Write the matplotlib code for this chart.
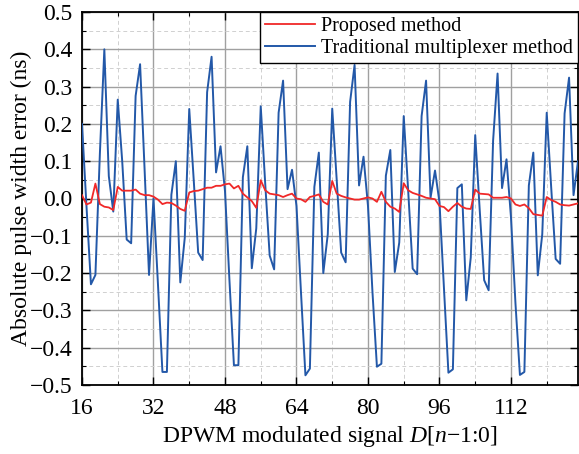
import matplotlib
matplotlib.use('Agg')
import matplotlib.pyplot as plt
from matplotlib.ticker import MultipleLocator, FuncFormatter
import numpy as np

plt.rcParams['font.family'] = 'Liberation Serif'
plt.rcParams['mathtext.fontset'] = 'custom'
plt.rcParams['mathtext.rm'] = 'Liberation Serif'
plt.rcParams['mathtext.it'] = 'Liberation Serif:italic'

# DPWM code D[n-1:0]
d_code = np.arange(16, 128)

# absolute pulse width error (ns), proposed method
err_proposed = [
    0.009, -0.016, -0.011, 0.040, -0.015, -0.022, -0.024, -0.031,
    0.031, 0.021, 0.021, 0.021, 0.024, 0.013, 0.009, 0.009,
    0.005, -0.003, -0.015, -0.011, -0.012, -0.019, -0.028, -0.033,
    0.016, 0.020, 0.021, 0.025, 0.029, 0.029, 0.034, 0.034,
    0.038, 0.040, 0.027, 0.034, 0.013, 0.003, -0.007, -0.025,
    0.049, 0.022, 0.013, 0.011, 0.009, 0.004, 0.009, 0.013,
    0.000, -0.002, -0.009, 0.004, 0.007, 0.011, -0.009, -0.016,
    0.047, 0.013, 0.007, 0.003, 0.000, -0.003, -0.003, 0.000,
    0.003, 0.000, -0.009, 0.018, -0.009, -0.022, -0.027, -0.036,
    0.041, 0.022, 0.015, 0.011, 0.007, 0.002, 0.000, -0.002,
    -0.020, -0.023, -0.034, -0.022, -0.012, -0.022, -0.027, -0.028,
    0.024, 0.013, 0.012, 0.011, 0.002, 0.002, 0.002, 0.004,
    0.000, -0.016, -0.020, -0.016, -0.026, -0.042, -0.044, -0.046,
    0.004, -0.004, -0.009, -0.016, -0.018, -0.019, -0.016, -0.013,
]

# absolute pulse width error (ns), traditional multiplexer method
err_traditional = [
    0.200, -0.020, -0.230, -0.205, 0.120, 0.400, 0.060, -0.035,
    0.265, 0.100, -0.110, -0.120, 0.275, 0.360, 0.080, -0.205,
    0.000, -0.230, -0.465, -0.465, 0.010, 0.100, -0.225, -0.105,
    0.240, 0.050, -0.145, -0.165, 0.285, 0.380, 0.070, 0.140,
    0.020, -0.220, -0.447, -0.447, 0.057, 0.140, -0.187, -0.080,
    0.247, 0.040, -0.153, -0.190, 0.230, 0.316, 0.025, 0.077,
    -0.020, -0.250, -0.474, -0.456, 0.031, 0.123, -0.200, -0.096,
    0.241, 0.050, -0.145, -0.171, 0.259, 0.358, 0.035, 0.112,
    -0.020, -0.250, -0.451, -0.443, 0.061, 0.130, -0.197, -0.118,
    0.221, 0.020, -0.188, -0.203, 0.221, 0.316, 0.002, 0.075,
    -0.010, -0.240, -0.467, -0.458, 0.028, 0.038, -0.273, -0.158,
    0.170, -0.030, -0.219, -0.246, 0.155, 0.335, 0.028, 0.105,
    -0.050, -0.280, -0.473, -0.465, 0.035, 0.123, -0.206, -0.096,
    0.230, 0.030, -0.162, -0.175, 0.228, 0.324, 0.009, 0.100,
]

fig = plt.figure(figsize=(5.79, 4.54), dpi=100)
ax = fig.add_axes([82/579, 69/454, 496/579, 373/454])

ax.plot(d_code, err_proposed, color='#f02828', lw=1.3, label='Proposed method', zorder=4)
ax.plot(d_code, err_traditional, color='#2358a8', lw=1.4, label='Traditional multiplexer method', zorder=3)

ax.set_xlim(16, 127)
ax.set_ylim(-0.5, 0.5)
ax.xaxis.set_major_locator(MultipleLocator(16))
ax.xaxis.set_minor_locator(MultipleLocator(8))
ax.yaxis.set_major_locator(MultipleLocator(0.1))
ax.yaxis.set_minor_locator(MultipleLocator(0.05))
ax.yaxis.set_major_formatter(FuncFormatter(lambda v, p: ('%.1f' % v).replace('-', '\u2212')))

ax.grid(which='major', color='#a0a0a0', ls='-', lw=1.0)
ax.grid(which='minor', color='#d0d0d0', ls=(0, (4, 3)), lw=0.7)
ax.set_axisbelow(True)

ax.tick_params(which='both', direction='in', top=True, right=True, labelsize=17, color='black')
ax.tick_params(which='major', length=6, width=1.0)
ax.tick_params(which='minor', length=3, width=0.8)
ax.tick_params(axis='x', pad=9)
ax.tick_params(axis='y', pad=7)
for s in ax.spines.values():
    s.set_linewidth(1.3)

ax.set_xlabel(r'DPWM modulated signal $D$[$n$$-$1:0]', fontsize=17, labelpad=4)
ax.set_ylabel('Absolute pulse width error (ns)', fontsize=17, labelpad=-2)

leg = ax.legend(loc='upper right', fontsize=14.5, borderaxespad=0, fancybox=False,
                framealpha=1, edgecolor='black', handlelength=2.5, handletextpad=0.3,
                labelspacing=0.15, borderpad=0.25)
leg.get_frame().set_linewidth(1.0)

fig.savefig('out.png', dpi=100)
